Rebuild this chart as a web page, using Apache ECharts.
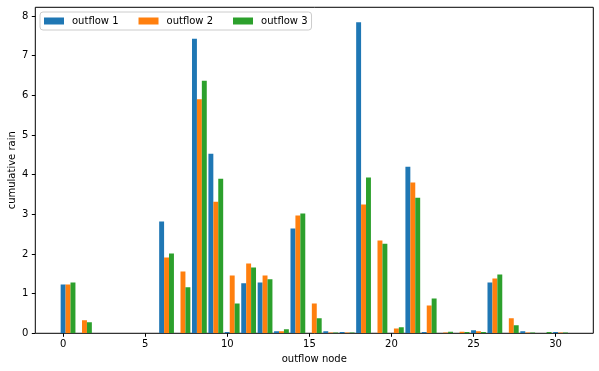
<!DOCTYPE html>
<html><head><meta charset="utf-8">
<script src="https://cdn.jsdelivr.net/npm/echarts@6/dist/echarts.min.js"></script>
<style>html,body{margin:0;padding:0;background:#fff}#c{width:599px;height:371px}</style>
</head><body><div id="c"></div>
<script>
const nodes = [0,1,2,3,4,5,6,7,8,9,10,11,12,13,14,15,16,17,18,19,20,21,22,23,24,25,26,27,28,29,30];
const outflow1 = [1.23,0,0,0,0,0,2.82,0,7.43,4.53,0.03,1.26,1.28,0.05,2.64,0,0.05,0.03,7.84,0,0,4.20,0.03,0,0,0.08,1.28,0,0.05,0,0.03];
const outflow2 = [1.23,0.33,0,0,0,0,1.91,1.56,5.90,3.32,1.46,1.76,1.46,0.05,2.97,0.75,0.02,0.02,3.25,2.34,0.12,3.80,0.70,0.02,0.04,0.05,1.38,0.38,0.02,0,0.02];
const outflow3 = [1.28,0.28,0,0,0,0,2.01,1.16,6.37,3.90,0.75,1.66,1.36,0.10,3.02,0.38,0.02,0.02,3.93,2.26,0.15,3.42,0.88,0.04,0.03,0.03,1.48,0.20,0.02,0.03,0.02];
const seriesNames = ['outflow 1','outflow 2','outflow 3'];
const xTicks = [0,5,10,15,20,25,30];
const yTicks = [0,1,2,3,4,5,6,7,8];

const colors = ['#1f77b4','#ff7f0e','#2ca02c'];
const barW = 0.3;
const font = 'DejaVu Sans';

function mkSeries(name, vals, idx, color){
  const off = idx * barW;
  return {
    name: name, type: 'custom', clip: true,
    itemStyle: {color: color},
    data: nodes.map((n,i)=>[n, vals[i]]),
    renderItem: function(params, api){
      const x = api.value(0), y = api.value(1);
      const p0 = api.coord([x + off - barW/2, y]);
      const p1 = api.coord([x + off + barW/2, 0]);
      return {type:'rect', shape:{x:p0[0], y:p0[1], width:p1[0]-p0[0], height:p1[1]-p0[1]},
        style:{fill: color}};
    }
  };
}

const chart = echarts.init(document.getElementById('c'), null, {renderer:'canvas'});
chart.setOption({
  animation: false,
  backgroundColor: '#fff',
  textStyle: {fontFamily: font},
  grid: {left: 35.3, right: 5.7, top: 7.3, bottom: 37.7, containLabel: false, outerBoundsMode: 'none',
    show: true, borderColor: '#000', borderWidth: 1, backgroundColor: 'transparent'},
  legend: {
    left: 40, top: 12, orient: 'horizontal',
    icon: 'rect', itemWidth: 20, itemHeight: 7, itemGap: 20,
    padding: [3, 4, 3, 4],
    backgroundColor: 'rgba(255,255,255,0.8)', borderColor: '#cccccc', borderWidth: 1, borderRadius: 3,
    textStyle: {fontFamily: font, fontSize: 10, color: '#000', lineHeight: 12, padding: [0,0,0,3]},
    data: seriesNames
  },
  xAxis: {
    type: 'value', min: -1.695, max: 32.295,
    name: 'outflow node', nameLocation: 'middle', nameGap: 21, nameMoveOverlap: false,
    nameTextStyle: {fontFamily: font, fontSize: 10, color: '#000'},
    axisLine: {show: false, onZero: false},
    axisTick: {show: true, length: 3.5, customValues: xTicks, lineStyle: {color: '#000'}},
    axisLabel: {customValues: xTicks, fontFamily: font, fontSize: 10, color: '#000', margin: 6},
    splitLine: {show: false}
  },
  yAxis: {
    type: 'value', min: 0, max: 8.22,
    name: 'cumulative rain', nameLocation: 'middle', nameGap: 18, nameRotate: 90, nameMoveOverlap: false,
    nameTextStyle: {fontFamily: font, fontSize: 10, color: '#000'},
    axisLine: {show: false, onZero: false},
    axisTick: {show: true, length: 3.5, customValues: yTicks, lineStyle: {color: '#000'}},
    axisLabel: {customValues: yTicks, fontFamily: font, fontSize: 10, color: '#000', margin: 7},
    splitLine: {show: false}
  },
  series: [
    mkSeries(seriesNames[0], outflow1, 0, colors[0]),
    mkSeries(seriesNames[1], outflow2, 1, colors[1]),
    mkSeries(seriesNames[2], outflow3, 2, colors[2])
  ]
});
</script></body></html>
